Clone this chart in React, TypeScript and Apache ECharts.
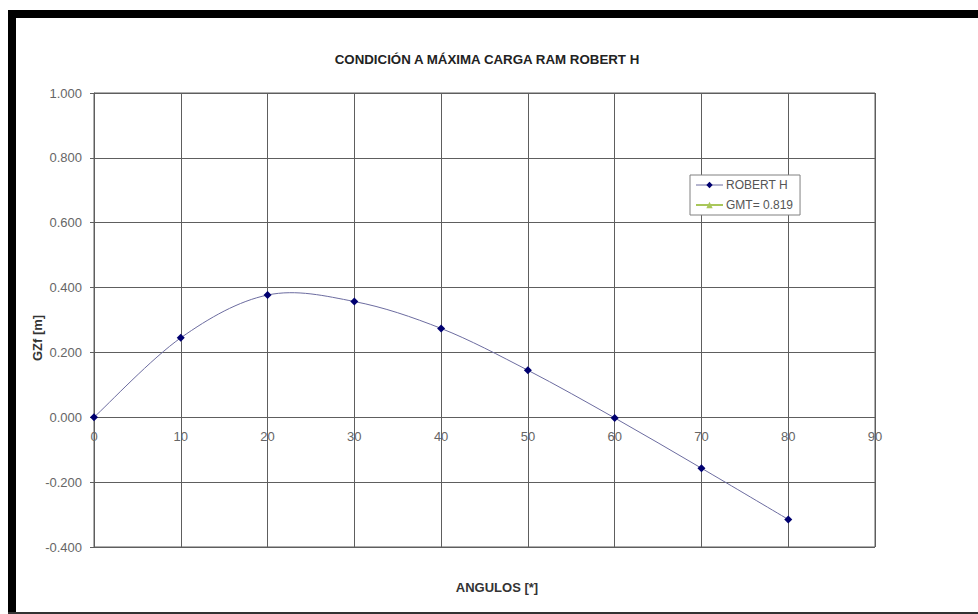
import React, { useEffect, useRef } from "react";
import * as echarts from "echarts";

const angles = [0, 10, 20, 30, 40, 50, 60, 70, 80];
const gzValues = [0.0, 0.245, 0.377, 0.357, 0.274, 0.145, -0.002, -0.157, -0.315];
const gmtValues: number[][] = [];
const xTicks = { min: 0, max: 90, interval: 10 };
const yTicks = { min: -0.4, max: 1.0, interval: 0.2 };
const titleText = "CONDICIÓN A MÁXIMA CARGA RAM ROBERT H";
const xAxisName = "ANGULOS [*]";
const yAxisName = "GZf [m]";
const seriesNames = ["ROBERT H", "GMT= 0.819"];

const LINE_COLOR = "#6c6ca0";
const MARK_COLOR = "#000070";
const GRID_COLOR = "#5e5e5e";
const LABEL_COLOR = "#666";

export default function App() {
  const ref = useRef<HTMLDivElement>(null);
  useEffect(() => {
    if (!ref.current) return;
    const chart = echarts.init(ref.current, undefined, { renderer: "svg" });
    const font = "'Liberation Sans', Arial, sans-serif";
    const points = angles.map((a, i) => [a, gzValues[i]]);
    const n = points.length;
    const gridHeight = 454;
    const zeroOffset = -Math.round((gridHeight * (0 - yTicks.min)) / (yTicks.max - yTicks.min));

    chart.setOption({
      animation: false,
      backgroundColor: "#ffffff",
      textStyle: { fontFamily: font },
      graphic: [
        { type: "rect", shape: { x: 8, y: 10, width: 970, height: 8 }, style: { fill: "#000" } },
        { type: "rect", shape: { x: 8, y: 10, width: 8, height: 604 }, style: { fill: "#000" } },
        { type: "rect", shape: { x: 8, y: 612, width: 970, height: 2 }, style: { fill: "#333" } },
        {
          type: "text",
          x: 487,
          y: 59,
          style: {
            text: titleText,
            fill: "#222",
            font: "bold 13.3px 'Liberation Sans', Arial, sans-serif",
            textAlign: "center",
            textVerticalAlign: "middle",
          },
        },
        {
          type: "text",
          x: 497,
          y: 587,
          style: {
            text: xAxisName,
            fill: "#333",
            font: "bold 13px 'Liberation Sans', Arial, sans-serif",
            textAlign: "center",
            textVerticalAlign: "middle",
          },
        },
        {
          type: "text",
          x: 37,
          y: 338,
          rotation: Math.PI / 2,
          style: {
            text: yAxisName,
            fill: "#333",
            font: "bold 13px 'Liberation Sans', Arial, sans-serif",
            textAlign: "center",
            textVerticalAlign: "middle",
          },
        },
      ],
      legend: {
        left: 690,
        top: 175,
        orient: "vertical",
        padding: [4, 7, 4, 5],
        itemGap: 8,
        itemWidth: 27,
        itemHeight: 8,
        borderColor: "#808080",
        borderWidth: 1,
        backgroundColor: "#fff",
        textStyle: { fontSize: 12, color: "#555", fontFamily: font, padding: [0, 0, 0, -2] },
        data: [
          { name: seriesNames[0], lineStyle: { color: LINE_COLOR, width: 1, opacity: 1 } },
          { name: seriesNames[1] },
        ],
      },
      grid: {
        left: 94,
        top: 93,
        width: 781,
        height: gridHeight,
        show: true,
        borderColor: GRID_COLOR,
        borderWidth: 1,
        containLabel: false,
        outerBoundsMode: "none",
      },
      xAxis: {
        type: "value",
        min: xTicks.min,
        max: xTicks.max,
        interval: xTicks.interval,
        offset: zeroOffset,
        axisLine: { show: true, onZero: false, lineStyle: { color: GRID_COLOR, width: 1 } },
        axisTick: { show: false },
        axisLabel: { color: LABEL_COLOR, fontSize: 13, margin: 13 },
        splitLine: { show: true, lineStyle: { color: GRID_COLOR, width: 1 } },
      },
      yAxis: {
        type: "value",
        min: yTicks.min,
        max: yTicks.max,
        interval: yTicks.interval,
        axisLine: { show: true, onZero: false, lineStyle: { color: GRID_COLOR } },
        axisTick: { show: true, inside: false, length: 4, lineStyle: { color: GRID_COLOR } },
        axisLabel: {
          color: LABEL_COLOR,
          fontSize: 13,
          margin: 12,
          formatter: (v: number) => v.toFixed(3),
        },
        splitLine: { show: true, lineStyle: { color: GRID_COLOR, width: 1 } },
      },
      series: [
        {
          name: seriesNames[0],
          type: "line",
          data: points,
          symbol: "diamond",
          symbolSize: 8,
          z: 3,
          itemStyle: { color: MARK_COLOR },
          lineStyle: { color: LINE_COLOR, width: 1, opacity: 0 },
        },
        {
          type: "custom",
          name: "curve",
          data: points,
          z: 2,
          encode: { x: 0, y: 1 },
          renderItem: (params: any, api: any) => {
            const i = params.dataIndex;
            if (i >= n - 1) return null;
            const c = (j: number) => api.coord(points[Math.max(0, Math.min(n - 1, j))]);
            const p0 = c(i - 1);
            const p1 = c(i);
            const p2 = c(i + 1);
            const p3 = c(i + 2);
            return {
              type: "bezierCurve",
              shape: {
                x1: p1[0],
                y1: p1[1],
                x2: p2[0],
                y2: p2[1],
                cpx1: p1[0] + (p2[0] - p0[0]) / 6,
                cpy1: p1[1] + (p2[1] - p0[1]) / 6,
                cpx2: p2[0] - (p3[0] - p1[0]) / 6,
                cpy2: p2[1] - (p3[1] - p1[1]) / 6,
              },
              style: { stroke: LINE_COLOR, lineWidth: 1, fill: null },
            };
          },
        },
        {
          name: seriesNames[1],
          type: "line",
          data: gmtValues,
          symbol: "triangle",
          symbolSize: 7,
          itemStyle: { color: "#a9c75a" },
          lineStyle: { color: "#a9c75a", width: 2 },
        },
      ],
    });
    return () => chart.dispose();
  }, []);
  return (
    <div
      ref={ref}
      style={{ position: "absolute", left: 0, top: 0, width: 978, height: 614 }}
    />
  );
}
